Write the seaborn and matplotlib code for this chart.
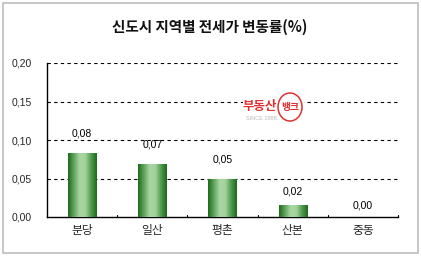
import numpy as np
import pandas as pd
import matplotlib
matplotlib.use("Agg")
import matplotlib.pyplot as plt
import seaborn as sns
from matplotlib.colors import LinearSegmentedColormap
from matplotlib.patches import Rectangle, Ellipse

# ---- data ----
categories = ["분당", "일산", "평촌", "산본", "중동"]
values = [0.083, 0.069, 0.049, 0.016, 0.0]
value_labels = ["0,08", "0,07", "0,05", "0,02", "0,00"]
ytick_values = [0.0, 0.05, 0.10, 0.15, 0.20]
ytick_labels = ["0,00", "0,05", "0,10", "0,15", "0,20"]
title = "신도시 지역별 전세가 변동률(%)"

sns.set_theme(style="white")
plt.rcParams["font.family"] = ["Liberation Sans", "Noto Sans CJK KR", "DejaVu Sans"]

W, H, DPI = 421, 258, 100
fig = plt.figure(figsize=(W / DPI, H / DPI), dpi=DPI)
fig.patch.set_facecolor("white")

# outer border
fig.patches.append(Rectangle((3 / W, 5 / H), 415 / W, 250 / H, transform=fig.transFigure,
                             fill=False, edgecolor="#bdbdbd", linewidth=1.2))

ax = fig.add_axes([47 / W, (H - 217) / H, (398 - 47) / W, (217 - 63) / H])
df = pd.DataFrame({"cat": categories, "val": values})
sns.barplot(data=df, x="cat", y="val", ax=ax, width=0.4, color="#3a8a3a",
            saturation=1, edgecolor="none")

# gradient fill for bars
cmap = LinearSegmentedColormap.from_list(
    "g", ["#1c6a1c", "#5fa35a", "#a8d6a2", "#a3d39c", "#4f9a4c", "#1c6a1c"])
grad = np.linspace(0, 1, 256).reshape(1, -1)
for p in ax.patches:
    x0, y0 = p.get_x(), p.get_y()
    w, h = p.get_width(), p.get_height()
    if h <= 0:
        continue
    p.set_facecolor("none")
    im = ax.imshow(grad, cmap=cmap, aspect="auto", extent=[x0, x0 + w, y0, y0 + h],
                   zorder=3, interpolation="bilinear")
    im.set_clip_path(p)
ax.set_xlim(-0.5, len(categories) - 0.5)
ax.set_ylim(0, 0.2)

# value labels
offsets_px = [20, 19, 20, 13, 12]
for i, (p, lab) in enumerate(zip(ax.patches, value_labels)):
    xc = p.get_x() + p.get_width() / 2
    ax.annotate(lab, (xc, p.get_height()), xytext=(0, offsets_px[i] * 72 / DPI),
                textcoords="offset points", ha="center", va="center",
                fontsize=7.5, color="black", zorder=5)

# grid lines
for yv in ytick_values[1:]:
    ax.axhline(yv, color="black", linestyle=(0, (3, 3)), linewidth=0.8, zorder=1)

ax.set_yticks(ytick_values)
ax.set_yticklabels(ytick_labels, fontsize=7.5)
ax.set_xticks(range(len(categories)))
ax.set_xticklabels(categories, fontsize=8.5, family=["Noto Sans CJK KR"])
ax.tick_params(axis="x", length=0, pad=5)
ax.tick_params(axis="y", length=0, pad=11)
# boundary tick marks on x axis
for b in np.arange(0.5, len(categories), 1.0):
    ax.plot([b, b], [0, 0.003], color="black", linewidth=0.8, zorder=4, clip_on=False)

ax.set_xlabel("")
ax.set_ylabel("")
for s in ["top", "right"]:
    ax.spines[s].set_visible(False)
for s in ["left", "bottom"]:
    ax.spines[s].set_color("black")
    ax.spines[s].set_linewidth(1.0)

fig.text(210 / W, 1 - 27 / H, title, ha="center", va="center", fontsize=10.5,
         family=["Noto Sans CJK KR"], fontweight="bold", color="#111111")

# watermark logo (white backing, text, circle)
red = "#e03030"
fig.patches.append(Rectangle((243 / W, 1 - 124 / H), 61 / W, 32 / H, transform=fig.transFigure,
                             facecolor="white", edgecolor="none", zorder=2))
fig.text(260 / W, 1 - 106 / H, "부동산", ha="center", va="center", fontsize=9,
         family=["Noto Sans CJK KR"], fontweight="bold", color=red, zorder=3)
fig.text(290 / W, 1 - 107 / H, "뱅크", ha="center", va="center", fontsize=7,
         family=["Noto Sans CJK KR"], fontweight="bold", color=red, zorder=3)
fig.patches.append(Ellipse((290 / W, 1 - 107 / H), 24 / W, 28 / H, transform=fig.transFigure,
                           fill=False, edgecolor=red, linewidth=1.1, zorder=3))
fig.text(261 / W, 1 - 119 / H, "SINCE 1988", ha="center", va="center", fontsize=4,
         color="#b8b8b8", zorder=3)

fig.savefig("out.png", dpi=DPI, facecolor="white")
